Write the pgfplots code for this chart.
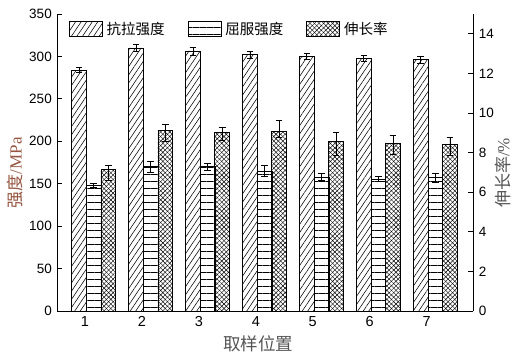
\documentclass[border=0pt]{standalone}
\usepackage{fontspec}
\setmainfont{Liberation Sans}
\newfontfamily\cjk{Noto Sans CJK SC}
\newfontfamily\tnr{Liberation Serif}
\usepackage{pgfplots}
\pgfplotsset{compat=1.18}
\usepackage{pgfplotstable}
\usetikzlibrary{patterns.meta}

\definecolor{lblred}{RGB}{150,85,65}
\definecolor{lblgray}{RGB}{85,85,85}

\pgfplotstableread{
x y e
1 284 2.8
2 310 3.7
3 306.5 4.7
4 302 4.3
5 299.5 3.5
6 297.5 3.5
7 296 3.7
}\tensile

\pgfplotstableread{
x y e
1 148 2.5
2 170 6.5
3 170 4.5
4 165 6.7
5 158 4.5
6 155.5 3.3
7 157 4.9
}\yieldtab

\pgfplotstableread{
x y ep em
1 7.13 0.20 0.54
2 9.14 0.30 0.59
3 9.04 0.25 0.40
4 9.09 0.52 0.32
5 8.58 0.45 0.74
6 8.48 0.40 0.59
7 8.43 0.35 0.55
}\elong

\pgfplotsset{
  mylegimg/.style={legend image code/.code={\draw[##1, line width=0.8pt] (0pt,-7.5pt) rectangle (33pt,7.5pt);}},
  tens/.style={draw=black, line width=0.8pt, pattern={Lines[angle=56,distance=4.6pt,line width=0.55pt]}},
  yld/.style={draw=black, line width=0.8pt, pattern={Lines[angle=0,distance=7pt,line width=0.7pt]}},
  elo/.style={draw=black, line width=0.8pt, pattern={Lines[angle=45,distance=3.2pt,line width=0.45pt]}, postaction={pattern={Lines[angle=-45,distance=3.2pt,line width=0.45pt]}}},
  errs/.style={error bars/.cd, y dir=both, y explicit, error bar style={line width=0.8pt, black}, error mark options={rotate=90, mark size=3.3pt, line width=0.8pt, black}},
  common/.style={
    width=416pt, height=297pt, scale only axis,
    at={(0,0)}, anchor=south west,
    xmin=0.514, xmax=7.82,
    ybar, bar width=0.258,
    tick align=inside, major tick length=5pt,
    axis line style={line width=0.8pt},
    every tick/.style={line width=0.8pt, black},
    /pgf/number format/assume math mode=true,
    yticklabel style={font=\fontsize{13.5}{13.5}\selectfont},
    xticklabel style={font=\fontsize{14.5}{14.5}\selectfont, yshift=-2pt},
  },
}

\begin{document}
\begin{tikzpicture}
\begin{axis}[common,
  axis x line*=bottom, axis y line*=left,
  ymin=0, ymax=350, ytick={0,50,...,350},
  xtick={1,...,7}, xtick style={draw=none},
  yticklabel style={xshift=-2pt},
  xlabel={\cjk 取样位置},
  xlabel style={font=\fontsize{17.5}{17.5}\selectfont, color=lblgray, at={(axis description cs:0.483,-0.109)}, anchor=center},
  ylabel={\cjk 强度\tnr /MPa},
  ylabel style={font=\fontsize{17}{17}\selectfont, color=lblred, at={(axis description cs:-0.101,0.466)}, anchor=center},
]
\addplot[tens, bar shift=-0.1025, errs] table[x=x, y=y, y error=e] {\tensile};
\addplot[yld, bar shift=0.155, errs] table[x=x, y=y, y error=e] {\yieldtab};
\end{axis}
\begin{axis}[common,
  axis x line=none, axis y line*=right,
  ymin=0, ymax=15, ytick={0,2,...,14},
  xtick=\empty,
  yticklabel style={xshift=2pt},
  ylabel={\cjk 伸长率\tnr /\%},
  ylabel style={font=\fontsize{17}{17}\selectfont, color=lblgray, at={(axis description cs:1.071,0.465)}, anchor=center, rotate=0},
  legend style={draw=none, fill=none, at={(axis description cs:0.02,0.95)}, anchor=west, font=\cjk\fontsize{14.5}{14.5}\selectfont,
    /tikz/every even column/.append style={column sep=21pt},
    /tikz/every odd column/.append style={column sep=2pt}},
  legend columns=3,
  legend cell align=left,
]
\addlegendimage{tens, mylegimg}
\addlegendentry{抗拉强度}
\addlegendimage{yld, mylegimg}
\addlegendentry{屈服强度}
\addplot[elo, bar shift=0.41, mylegimg, error bars/.cd, y dir=both, y explicit, error bar style={line width=0.8pt, black}, error mark options={rotate=90, mark size=3.3pt, line width=0.8pt, black}] table[x=x, y=y, y error plus=ep, y error minus=em] {\elong};
\addlegendentry{伸长率}
\end{axis}
\pgfresetboundingbox
\path (-57.3pt,-45pt) rectangle (464.7pt,311pt);
\end{tikzpicture}
\end{document}
